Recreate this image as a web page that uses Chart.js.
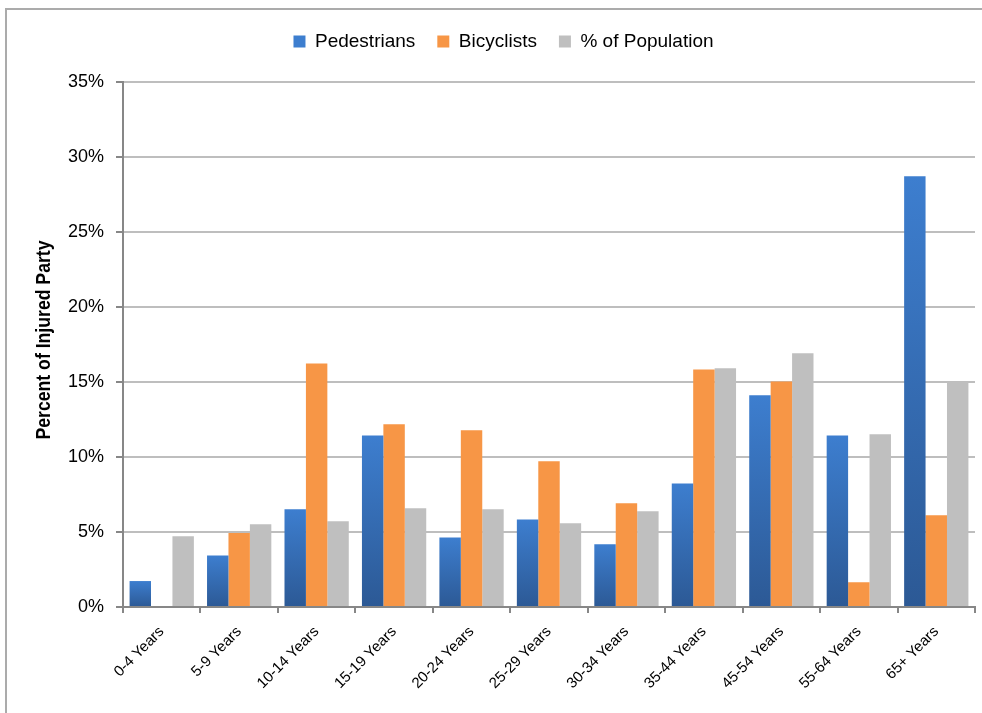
<!DOCTYPE html>
<html>
<head>
<meta charset="utf-8">
<script src="https://cdn.jsdelivr.net/npm/chart.js@4.4.1/dist/chart.umd.min.js"></script>
<style>
  html, body { margin: 0; padding: 0; background: #fff; overflow: hidden; }
  #wrap { position: relative; width: 982px; height: 713px; }
  #frame { position: absolute; left: 5px; top: 8px; width: 990px; height: 720px;
           border-left: 2px solid #ABABAB; border-top: 2px solid #ABABAB; }
  #myChart { position: absolute; left: 0; top: 0; }
</style>
</head>
<body>
<div id="wrap">
  <div id="frame"></div>
  <canvas id="myChart" width="982" height="713"></canvas>
</div>
<script>
// dữ liệu
const ageGroups = ['0-4 Years', '5-9 Years', '10-14 Years', '15-19 Years', '20-24 Years',
    '25-29 Years', '30-34 Years', '35-44 Years', '45-54 Years', '55-64 Years', '65+ Years'];
const pedestrians = [1.73, 3.44, 6.51, 11.44, 4.64, 5.84, 4.18, 8.24, 14.11, 11.44, 28.71];
const bicyclists  = [0, 4.93, 16.24, 12.18, 11.78, 9.71, 6.91, 15.84, 15.04, 1.65, 6.11];
const population  = [4.71, 5.51, 5.71, 6.58, 6.51, 5.58, 6.38, 15.91, 16.91, 11.51, 14.98];
const yTicks = [0, 5, 10, 15, 20, 25, 30, 35];
const yTitle = 'Percent of Injured Party';

const axisGray = '#878787';
const gridGray = '#BEBEBE';
const baseFont = "'Liberation Sans', Arial, sans-serif";

// gradient xanh cho từng cột (sáng ở trên, tối ở dưới)
function blueGradient(context) {
    const chart = context.chart;
    const { chartArea, scales } = chart;
    if (!chartArea || !scales.y || context.raw == null) return '#3670BB';
    const yTop = scales.y.getPixelForValue(context.raw);
    const yBase = scales.y.getPixelForValue(0);
    if (!isFinite(yTop) || yBase - yTop < 1) return '#3670BB';
    const g = chart.ctx.createLinearGradient(0, yTop, 0, yBase);
    g.addColorStop(0, '#3D7ECF');
    g.addColorStop(1, '#2C5995');
    return g;
}

// cố định chiều cao legend và dịch nó sang phải một chút
const legendFix = {
    id: 'legendFix',
    beforeInit(chart) {
        const origFit = chart.legend.fit;
        chart.legend.fit = function () {
            origFit.call(this);
            this.height = 72;
        };
    },
    afterLayout(chart) {
        chart.legend.left += 32;
    }
};

// tiêu đề trục y, chữ hẹp như bản gốc
const yTitlePlugin = {
    id: 'yTitlePlugin',
    afterDraw(chart) {
        const c = chart.ctx;
        c.save();
        c.translate(44, 340);
        c.rotate(-Math.PI / 2);
        c.scale(0.84, 1);
        c.font = "bold 21px " + baseFont;
        c.textAlign = 'center';
        c.textBaseline = 'middle';
        c.fillStyle = '#000';
        c.fillText(yTitle, 0, 0);
        c.restore();
    }
};

const canvas = document.getElementById('myChart');
const ctx = canvas.getContext('2d');
const myChart = new Chart(ctx, {
    type: 'bar',
    data: {
        labels: ageGroups,
        datasets: [
            { label: 'Pedestrians', data: pedestrians, backgroundColor: blueGradient },
            { label: 'Bicyclists', data: bicyclists, backgroundColor: '#F79646' },
            { label: '% of Population', data: population, backgroundColor: '#BFBFBF' }
        ]
    },
    options: {
        responsive: false,
        animation: false,
        devicePixelRatio: 1,
        layout: { padding: { top: 10, right: 7, left: 0, bottom: 0 } },
        datasets: {
            bar: { categoryPercentage: 0.83, barPercentage: 1.0, borderWidth: 0 }
        },
        scales: {
            x: {
                offset: true,
                border: { display: true, color: axisGray, width: 2 },
                grid: { offset: true, drawOnChartArea: false, drawTicks: true, tickLength: 6, color: axisGray, lineWidth: 2 },
                ticks: {
                    color: '#000',
                    font: { family: baseFont, size: 15 },
                    maxRotation: 45, minRotation: 45,
                    autoSkip: false,
                    padding: 10
                },
                afterFit(scale) { scale.height = 106; }
            },
            y: {
                min: 0,
                max: 35,
                afterBuildTicks(scale) { scale.ticks = yTicks.map(v => ({ value: v })); },
                border: { display: true, color: axisGray, width: 2 },
                grid: { color: gridGray, lineWidth: 2, drawTicks: true, tickLength: 7, tickColor: axisGray },
                ticks: {
                    color: '#000',
                    font: { family: baseFont, size: 18 },
                    padding: 12,
                    callback: v => v + '%'
                },
                title: { display: false },
                afterFit(scale) { scale.width = 123; }
            }
        },
        plugins: {
            legend: {
                display: true,
                position: 'top',
                labels: {
                    color: '#000',
                    font: { family: baseFont, size: 19 },
                    boxWidth: 12,
                    boxHeight: 12,
                    padding: 22
                }
            },
            tooltip: { enabled: false }
        }
    },
    plugins: [legendFix, yTitlePlugin]
});
</script>
</body>
</html>
